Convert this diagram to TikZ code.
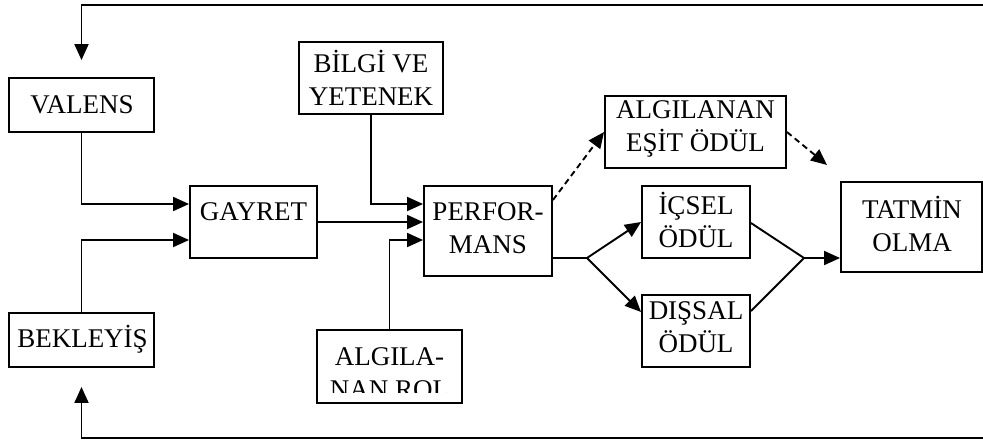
\documentclass[tikz,border=0pt]{standalone}
\usepackage{fontspec}
\setmainfont{Liberation Serif}
\usetikzlibrary{arrows.meta}
\begin{document}
\begin{tikzpicture}[x=1pt,y=-1pt,
  box/.style 2 args={draw,line width=1.9pt,inner sep=0pt,minimum width=#1pt,minimum height=#2pt},
  lbl/.style={font=\fontsize{27}{33}\selectfont,align=center,inner sep=0pt},
  conn/.style={line width=1.9pt},
  arr/.style={conn,-{Triangle[length=16pt,width=14pt]}},
  darr/.style={arr,dash pattern=on 6pt off 4pt}]
\useasboundingbox (0,0) rectangle (983,440);
% boxes
\node[box={145}{54}] (val) at (81.5,105) {};
\node[lbl] (valt) at (82,105) {VALENS};
\node[box={144}{72}] (bil) at (371,78) {};
\node[lbl] (bilt) at (371,78) {BİLGİ VE\\YETENEK};
\node[box={127}{72}] (gay) at (253.5,222) {};
\node[lbl] (gayt) at (253.5,212) {GAYRET};
\node[box={128}{90}] (perf) at (488,231) {};
\node[lbl] (perft) at (488,228) {PERFOR-\\MANS};
\node[box={145}{54}] (bek) at (81.5,340) {};
\node[lbl] (bekt) at (82.5,339) {BEKLEYİŞ};
\node[box={145}{73}] (rol) at (389.5,366.5) {};
\begin{scope}
  \clip (317,330) rectangle (462,392);
  \node[lbl,anchor=north] (rolt) at (389.5,347) {ALGILA-\\NAN ROL};
\end{scope}
\node[box={181}{72}] (aes) at (695.5,132) {};
\node[lbl] (aest) at (695.5,129) {ALGILANAN\\EŞİT ÖDÜL};
\node[box={108}{72}] (ics) at (696,222) {};
\node[lbl] (icst) at (696,220) {İÇSEL\\ÖDÜL};
\node[box={108}{72}] (dis) at (696,331) {};
\node[lbl] (dist) at (696,327) {DIŞSAL\\ÖDÜL};
\node[box={141}{90}] (tat) at (911.5,227) {};
\node[lbl] (tatt) at (912,224) {TATMİN\\OLMA};
% free ends / junctions
\coordinate (fbtop) at (983,5);
\coordinate (fbbot) at (983,438);
\coordinate (split) at (587,258);
\coordinate (join) at (804,258);
\coordinate (aesend) at (827,165);
% feedback loops
\draw[arr] (fbtop) -| ([yshift=17pt]val.north);
\draw[arr] (fbbot) -| ([yshift=-19pt]bek.south);
% into GAYRET
\draw[arr] (val.south) |- ([yshift=18pt]gay.west);
\draw[arr] (bek.north) |- ([yshift=-18pt]gay.west);
% into PERFORMANS
\draw[arr] (bil.south) |- ([yshift=27pt]perf.west);
\draw[arr] (gay.east) -- ([yshift=9pt]perf.west);
\draw[arr] (rol.north) |- ([yshift=-9pt]perf.west);
% dashed
\draw[darr] ([yshift=31pt]perf.east) -- (aes.west);
\draw[darr] (aes.east) -- (aesend);
% rewards
\draw[conn] ([yshift=-27pt]perf.east) -- (split);
\draw[arr] (split) -- (ics.west);
\draw[arr] (split) -- ([yshift=19pt]dis.west);
\draw[conn] ([yshift=-1pt]ics.east) -- (join);
\draw[conn] ([yshift=20pt]dis.east) -- (join);
\draw[arr] (join) -- ([yshift=-31pt]tat.west);
\end{tikzpicture}
\end{document}
